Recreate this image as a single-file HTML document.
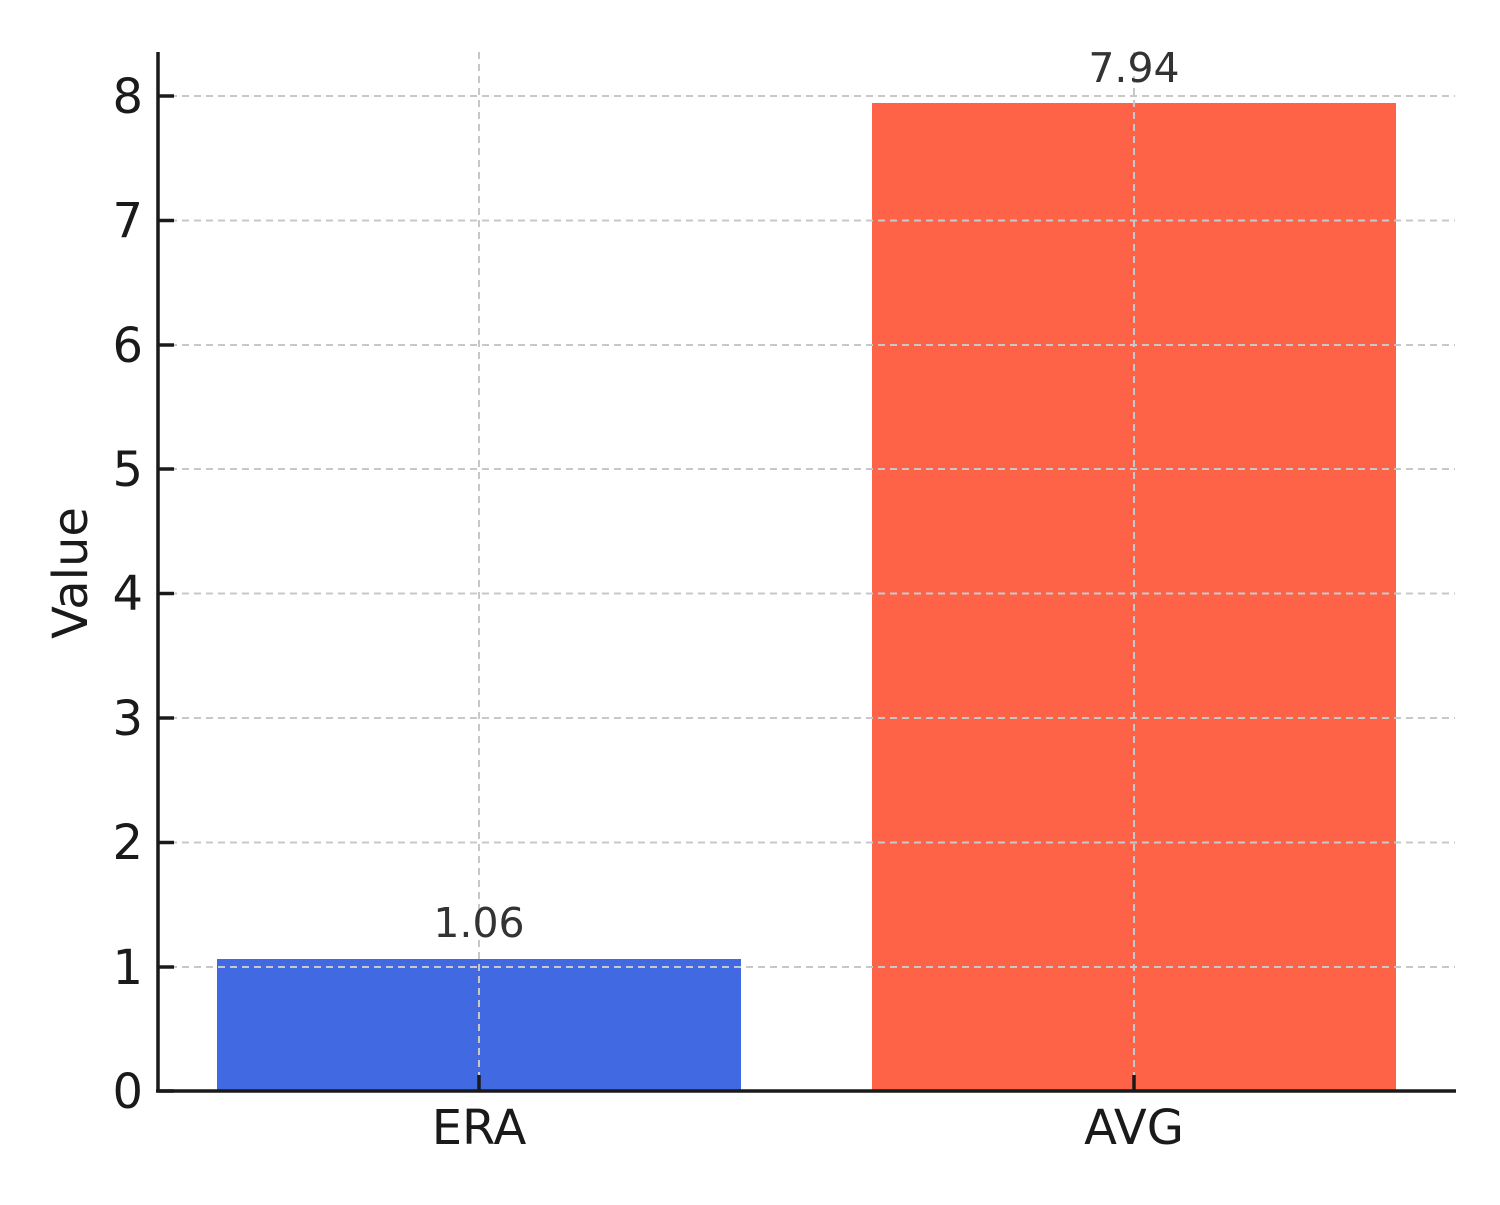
<!DOCTYPE html><html><head><meta charset="utf-8"><style>body{margin:0;background:#fff}</style></head><body>
<svg width="1500" height="1200" xmlns="http://www.w3.org/2000/svg" font-family="DejaVu Sans, Liberation Sans, sans-serif">
<rect width="1500" height="1200" fill="#fff"/>
<rect x="217" y="959" width="524" height="132" fill="#4169E1"/>
<rect x="872" y="103" width="524" height="988" fill="#FF6347"/>
<g stroke="#c8c8c8" stroke-width="2" stroke-dasharray="7,5">
<line x1="158" x2="1455" y1="967" y2="967"/><line x1="158" x2="1455" y1="842.5" y2="842.5"/>
<line x1="158" x2="1455" y1="718" y2="718"/><line x1="158" x2="1455" y1="593.5" y2="593.5"/>
<line x1="158" x2="1455" y1="469" y2="469"/><line x1="158" x2="1455" y1="345" y2="345"/>
<line x1="158" x2="1455" y1="220.5" y2="220.5"/><line x1="158" x2="1455" y1="96" y2="96"/>
<line x1="479" x2="479" y1="52" y2="1091"/><line x1="1134" x2="1134" y1="52" y2="1091"/>
</g>
<g stroke="#1a1a1a" stroke-width="3.5">
<line x1="158" x2="158" y1="52" y2="1092"/><line x1="156" x2="1456" y1="1091" y2="1091"/>
<line x1="158" x2="174" y1="1091" y2="1091"/><line x1="158" x2="174" y1="967" y2="967"/>
<line x1="158" x2="174" y1="842.5" y2="842.5"/><line x1="158" x2="174" y1="718" y2="718"/>
<line x1="158" x2="174" y1="593.5" y2="593.5"/><line x1="158" x2="174" y1="469" y2="469"/>
<line x1="158" x2="174" y1="345" y2="345"/><line x1="158" x2="174" y1="220.5" y2="220.5"/>
<line x1="158" x2="174" y1="96" y2="96"/>
<line x1="479" x2="479" y1="1075" y2="1091"/><line x1="1134" x2="1134" y1="1075" y2="1091"/>
</g>
<g fill="#1a1a1a" font-size="48" text-anchor="end">
<text x="143" y="1108">0</text><text x="143" y="984">1</text><text x="143" y="859">2</text>
<text x="143" y="735">3</text><text x="143" y="610">4</text><text x="143" y="486">5</text>
<text x="143" y="362">6</text><text x="143" y="237">7</text><text x="143" y="113">8</text>
</g>
<g fill="#1a1a1a" font-size="48" text-anchor="middle">
<text x="479" y="1144">ERA</text><text x="1134" y="1144">AVG</text>
<text transform="translate(87,573) rotate(-90)">Value</text>
</g>
<g fill="#333" font-size="41" text-anchor="middle">
<text x="479" y="937">1.06</text><text x="1134" y="82">7.94</text>
</g>
</svg></body></html>
